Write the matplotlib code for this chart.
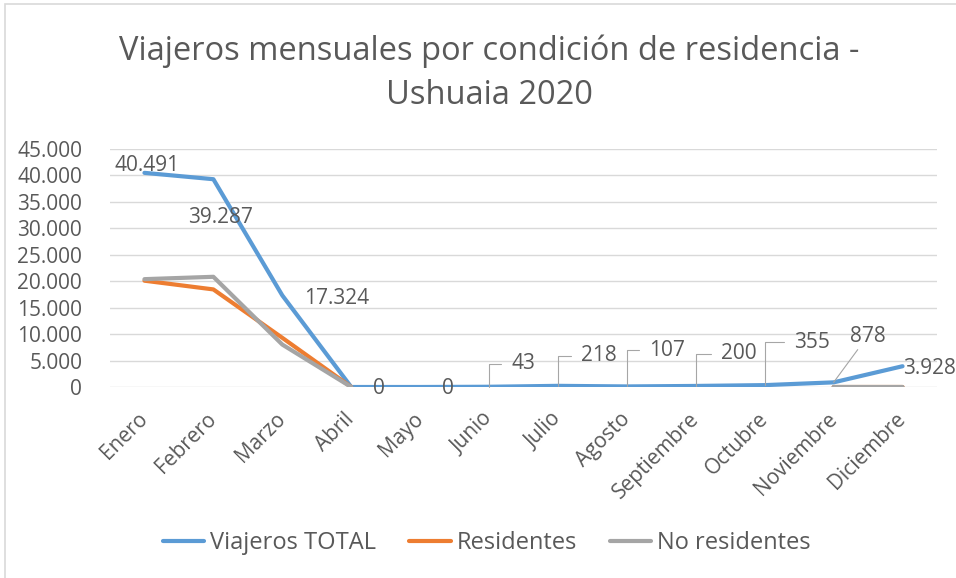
"""Viajeros mensuales por condicion de residencia - Ushuaia 2020."""

import numpy as np
import matplotlib
matplotlib.use('Agg')
import matplotlib.pyplot as plt
from matplotlib.patches import Rectangle
from matplotlib.ticker import FuncFormatter

plt.rcParams['font.family'] = ['Open Sans', 'DejaVu Sans']

meses = ['Enero', 'Febrero', 'Marzo', 'Abril', 'Mayo', 'Junio', 'Julio',
         'Agosto', 'Septiembre', 'Octubre', 'Noviembre', 'Diciembre']
total = [40491, 39287, 17324, 0, 0, 43, 218, 107, 200, 355, 878, 3928]
residentes = [20100, 18450, 9300, 0, None, None, None, None, None, None, 0, 0]
no_residentes = [20391, 20837, 8024, 0, None, None, None, None, None, None, 0, 0]

TXT = '#595959'
GRID = '#D9D9D9'


def fmt_miles(v, pos=None):
    return f'{int(round(v)):,}'.replace(',', '.')


def make_plot():
    fig = plt.figure(figsize=(9.56, 5.78), dpi=100)
    fig.patch.set_facecolor('white')
    W, H = 956, 578
    ax = fig.add_axes([110 / W, 1 - 387 / H, 827 / W, 238 / H])

    # chart border (only left/top visible in the crop)
    fig.add_artist(Rectangle((5 / W, -0.05), 1.2, (H - 4) / H + 0.05,
                             transform=fig.transFigure, fill=False,
                             edgecolor=GRID, lw=1.2))

    x = np.arange(len(meses))
    to_arr = lambda s: np.array([np.nan if v is None else v for v in s], float)
    ax.plot(x, total, color='#5B9BD5', lw=3, solid_capstyle='round',
            label='Viajeros TOTAL', zorder=3)
    ax.plot(x, to_arr(residentes), color='#ED7D31', lw=3,
            solid_capstyle='round', label='Residentes', zorder=4)
    ax.plot(x, to_arr(no_residentes), color='#A5A5A5', lw=3,
            solid_capstyle='round', label='No residentes', zorder=5)

    ax.set_xlim(-0.5, len(meses) - 0.5)
    ax.set_ylim(0, 45000)
    ax.set_yticks(np.arange(0, 45001, 5000))
    ax.yaxis.set_major_formatter(FuncFormatter(fmt_miles))
    ax.grid(axis='y', color=GRID, lw=1)
    ax.set_axisbelow(True)
    for s in ax.spines.values():
        s.set_visible(False)
    ax.tick_params(axis='y', length=0, pad=20, labelsize=15, labelcolor=TXT)
    ax.tick_params(axis='x', length=0, pad=21, labelsize=15, labelcolor=TXT)
    ax.set_xticks(x)
    ax.set_xticklabels(meses, rotation=45, ha='right', va='center',
                       rotation_mode='anchor')

    # data labels (offsets in pixels)
    offs = [(-30, 7), (-25, -38), (22, -3), (22, -2), (22, -2),
            (22, 23), (23, 30), (22, 36), (25, 32), (29, 43), (16, 46), (1, -2)]
    for i, (v, (dx, dy)) in enumerate(zip(total, offs)):
        kw = dict(xy=(i, v), xytext=(dx, dy), textcoords='offset pixels',
                  ha='left', va='center', fontsize=15, color=TXT, zorder=6,
                  annotation_clip=False)
        if 5 <= i <= 9:
            kw['arrowprops'] = dict(arrowstyle='-', color='#A6A6A6', lw=0.8,
                                    shrinkA=5, shrinkB=0,
                                    connectionstyle='angle,angleA=0,angleB=90,rad=0')
        elif i == 10:
            kw['arrowprops'] = dict(arrowstyle='-', color='#A6A6A6', lw=0.8,
                                    shrinkA=0, shrinkB=0)
        ax.annotate(fmt_miles(v), **kw)

    fig.text(489 / W, 1 - 73 / H,
             'Viajeros mensuales por condición de residencia -\nUshuaia 2020',
             ha='center', va='center', fontsize=23.5, color=TXT, linespacing=1.42)

    leg = ax.legend(loc='center', bbox_to_anchor=(487 / W, 1 - 543 / H),
                    bbox_transform=fig.transFigure, ncol=3, frameon=False,
                    fontsize=17, handlelength=1.75, handletextpad=0.25,
                    columnspacing=1.4)
    for t in leg.get_texts():
        t.set_color(TXT)

    fig.savefig('out.png', dpi=100, facecolor='white')


if __name__ == '__main__':
    make_plot()
